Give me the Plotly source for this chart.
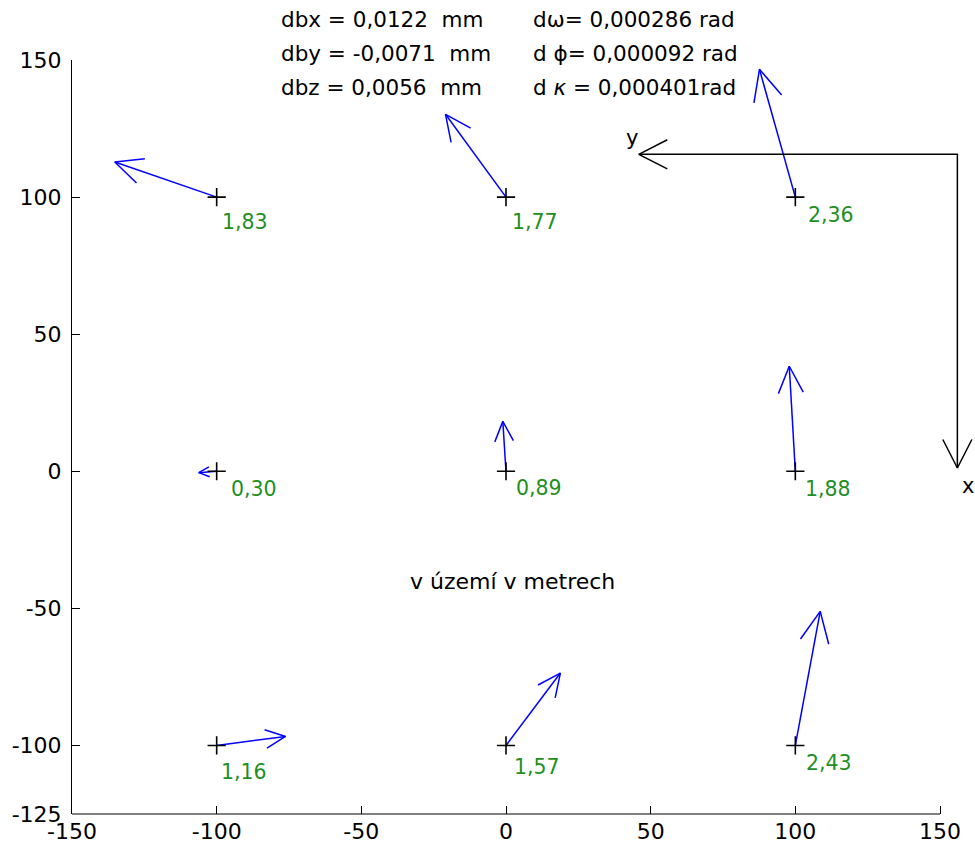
import math
import plotly.graph_objects as go

# ---------------- data ----------------
# control points in the terrain (metres)
pt_x = [-100, 0, 100, -100, 0, 100, -100, 0, 100]
pt_y = [100, 100, 100, 0, 0, 0, -100, -100, -100]
# drawn residual vectors (in plot units, already scaled)
vec_dx = [-35.2, -20.9, -12.4, -6.2, -1.1, -2.1, 23.8, 18.8, 8.6]
vec_dy = [12.8, 30.2, 46.6, -0.5, 18.2, 38.3, 3.3, 26.4, 48.9]
# magnitude labels
mag_labels = ["1,83", "1,77", "2,36", "0,30", "0,89", "1,88", "1,16", "1,57", "2,43"]

params_left = ["dbx = 0,0122  mm", "dby = -0,0071  mm", "dbz = 0,0056  mm"]
params_right = ["d\u03c9= 0,000286 rad", "d \u03d5= 0,000092 rad", "d <i>\u03ba</i> = 0,000401rad"]
center_text = "v území v metrech"

# image coordinate system sketch (corner, y-axis tip, x-axis tip)
frame_corner = (156.0, 115.6)
frame_y_tip = (45.9, 115.6)
frame_x_tip = (156.0, 1.2)
frame_y_label_pos = (43.6, 121.7)
frame_x_label_pos = (159.8, -5.5)

x_ticks = [-150, -100, -50, 0, 50, 100, 150]
y_ticks = [-125, -100, -50, 0, 50, 100, 150]

# ---------------- geometry / style ----------------
W, H = 975, 847
ML, MT, MB, MR = 72, 60, 33, 0
X_MIN, X_AXIS_END = -150, 150
Y_MIN, Y_MAX = -125, 150
plot_w = W - ML - MR
plot_h = H - MT - MB
sx = (940 - ML) / (X_AXIS_END - X_MIN)       # px per unit in x
X_MAX = X_MIN + plot_w / sx
sy = plot_h / (Y_MAX - Y_MIN)               # px per unit in y

FONT = "DejaVu Sans"
BLUE = "#0000ff"
GREEN = "#1f8f1f"


def head(x0, y0, x1, y1, frac=0.28, lo=22, hi=34, ang_deg=25):
    dxp = (x1 - x0) * sx
    dyp = (y1 - y0) * sy
    L = math.hypot(dxp, dyp)
    h = min(max(frac * L, lo), hi, 0.65 * L)
    a = math.atan2(dyp, dxp)
    pts = []
    for s in (1, -1):
        b = a + math.pi + s * math.radians(ang_deg)
        pts.append((x1 + h * math.cos(b) / sx, y1 + h * math.sin(b) / sy))
    return pts


# blue arrows
ax_, ay_ = [], []
for x0, y0, dx, dy in zip(pt_x, pt_y, vec_dx, vec_dy):
    x1, y1 = x0 + dx, y0 + dy
    (bx1, by1), (bx2, by2) = head(x0, y0, x1, y1)
    ax_ += [x0, x1, None, bx1, x1, bx2, None]
    ay_ += [y0, y1, None, by1, y1, by2, None]

fig = go.Figure()
fig.add_trace(go.Scatter(x=ax_, y=ay_, mode="lines",
                         line=dict(color=BLUE, width=1.5), hoverinfo="skip"))

# black coordinate frame
fx, fy = [], []
fx += [frame_y_tip[0], frame_corner[0], frame_x_tip[0], None]
fy += [frame_y_tip[1], frame_corner[1], frame_x_tip[1], None]
for tip in (frame_y_tip, frame_x_tip):
    (bx1, by1), (bx2, by2) = head(frame_corner[0], frame_corner[1], tip[0], tip[1],
                                  frac=0.1, lo=32, hi=34, ang_deg=27)
    fx += [bx1, tip[0], bx2, None]
    fy += [by1, tip[1], by2, None]
fig.add_trace(go.Scatter(x=fx, y=fy, mode="lines",
                         line=dict(color="black", width=1.5), hoverinfo="skip"))

# crosses
fig.add_trace(go.Scatter(x=pt_x, y=pt_y, mode="markers",
                         marker=dict(symbol="cross-thin", size=13,
                                     line=dict(color="black", width=1.6)),
                         hoverinfo="skip", cliponaxis=False))

annotations = []
lab_dx = [3, 4, 11, 12, 8, 8, 2, 6, 9]
lab_dy = [25, 25, 18, 18, 17, 18, 27, 22, 18]
for x0, y0, t, ddx, ddy in zip(pt_x, pt_y, mag_labels, lab_dx, lab_dy):
    annotations.append(dict(x=x0, y=y0, xref="x", yref="y", text=t, showarrow=False,
                            xanchor="left", yanchor="middle", xshift=ddx, yshift=-ddy,
                            font=dict(family=FONT, size=20.5, color=GREEN)))

line_px = [19, 53, 87]
for t_l, t_r, py in zip(params_left, params_right, line_px):
    yp = (H - MB - py) / plot_h
    annotations.append(dict(x=-78.5, y=yp, xref="x", yref="paper", text=t_l,
                            showarrow=False, xanchor="left", yanchor="middle",
                            font=dict(family=FONT, size=21.5, color="black")))
    annotations.append(dict(x=8.5, y=yp, xref="x", yref="paper", text=t_r,
                            showarrow=False, xanchor="left", yanchor="middle",
                            font=dict(family=FONT, size=21.5, color="black")))

annotations.append(dict(x=-34, y=-40.3, xref="x", yref="y", text=center_text,
                        showarrow=False, xanchor="left", yanchor="middle",
                        font=dict(family=FONT, size=22, color="black")))
annotations.append(dict(x=frame_y_label_pos[0], y=frame_y_label_pos[1], xref="x", yref="y",
                        text="y", showarrow=False, xanchor="center", yanchor="middle",
                        font=dict(family=FONT, size=21, color="black")))
annotations.append(dict(x=frame_x_label_pos[0], y=frame_x_label_pos[1], xref="x", yref="y",
                        text="x", showarrow=False, xanchor="center", yanchor="middle",
                        font=dict(family=FONT, size=21, color="black")))


def fmt(v):
    return str(v)


fig.update_layout(
    width=W, height=H,
    margin=dict(l=ML, r=MR, t=MT, b=MB, pad=0),
    paper_bgcolor="white", plot_bgcolor="white",
    showlegend=False,
    annotations=annotations,
    font=dict(family=FONT, size=22, color="black"),
    shapes=[dict(type="line", xref="x", yref="paper", x0=X_MIN, x1=X_AXIS_END,
                 y0=0, y1=0, line=dict(color="black", width=1))],
    xaxis=dict(range=[X_MIN, X_MAX], showgrid=False, zeroline=False, showline=False,
               tickmode="array", tickvals=x_ticks, ticktext=[fmt(v) for v in x_ticks],
               ticks="inside", ticklen=8, tickwidth=1, tickcolor="black",
               tickfont=dict(family=FONT, size=22, color="black"),
               ticklabelstandoff=2, fixedrange=True),
    yaxis=dict(range=[Y_MIN, Y_MAX], showgrid=False, zeroline=False, showline=True,
               linecolor="black", linewidth=1,
               tickmode="array", tickvals=y_ticks, ticktext=[fmt(v) for v in y_ticks],
               ticks="inside", ticklen=8, tickwidth=1, tickcolor="black",
               tickfont=dict(family=FONT, size=22, color="black"),
               ticklabelstandoff=5, fixedrange=True),
)

fig.write_html("out.html")
